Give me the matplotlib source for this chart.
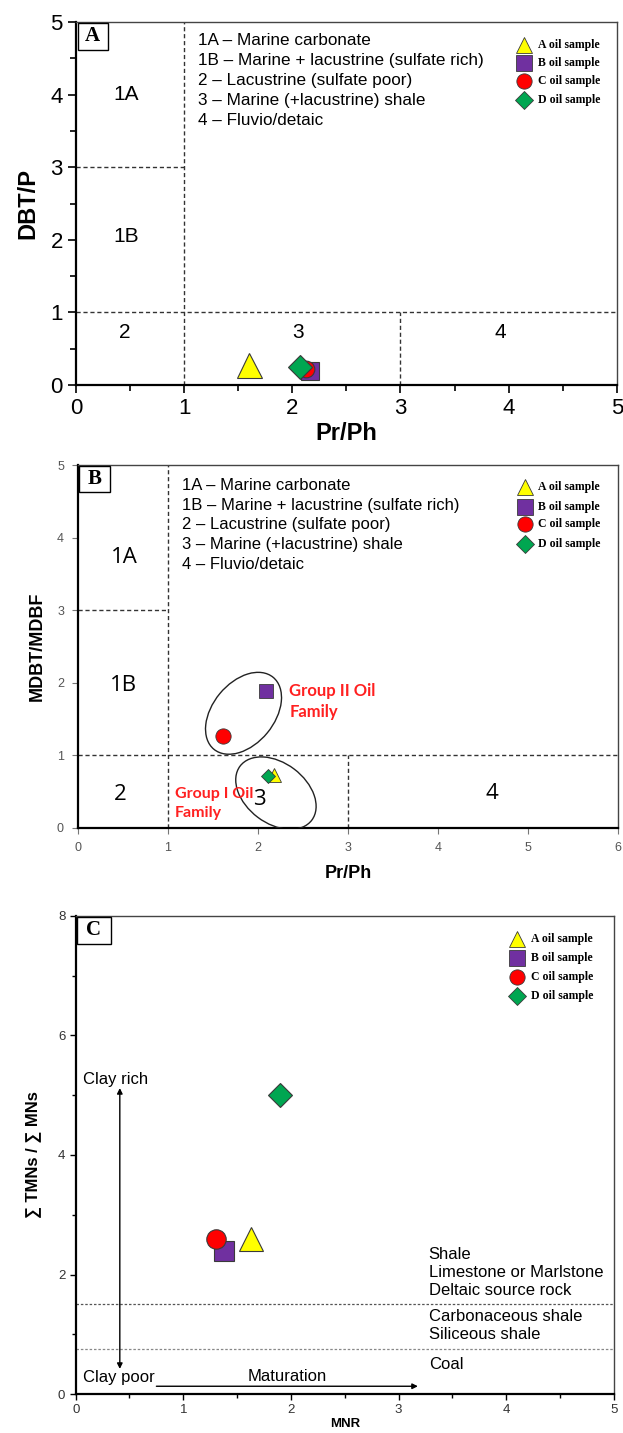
import matplotlib.pyplot as plt
import numpy as np
from matplotlib.patches import Ellipse, Rectangle
from matplotlib.transforms import ScaledTranslation
from matplotlib.ticker import MultipleLocator

samples = ["A oil sample", "B oil sample", "C oil sample", "D oil sample"]
markers = ["^", "s", "o", "D"]
colors = ["#ffff00", "#7030a0", "#ff0000", "#00a651"]

# panel A: DBT/P vs Pr/Ph
prph_a = [1.60, 2.16, 2.13, 2.07]
dbtp_a = [0.27, 0.20, 0.22, 0.25]

# panel B: MDBT/MDBF vs Pr/Ph
prph_b = [2.18, 2.09, 1.61, 2.11]
mdbt_b = [0.73, 1.89, 1.27, 0.71]

# panel C: sum TMNs / sum MNs vs MNR
mnr_c = [1.63, 1.38, 1.30, 1.90]
tmn_c = [2.60, 2.40, 2.60, 5.00]

zones = ["1A \u2013 Marine carbonate",
         "1B \u2013 Marine + lacustrine (sulfate rich)",
         "2 \u2013 Lacustrine (sulfate poor)",
         "3 \u2013 Marine (+lacustrine) shale",
         "4 \u2013 Fluvio/detaic"]

lith_upper = ["Shale", "Limestone or Marlstone", "Deltaic source rock"]
lith_mid = ["Carbonaceous shale", "Siliceous shale"]

plt.rcParams['font.family'] = ['Liberation Sans', 'DejaVu Sans']

fig = plt.figure(figsize=(6.23, 14.33), dpi=100)
axA = fig.add_axes([0.122, 0.7313, 0.868, 0.2533])
axB = fig.add_axes([0.125, 0.4222, 0.867, 0.2533])
axC = fig.add_axes([0.1215, 0.0272, 0.8636, 0.3336])

sizes_a = [18, 13, 12, 12]
sizes_b = [9.5, 10, 11, 7.6]
sizes_c = [17, 14, 14, 12]
edge = "#3a3a3a"
dash = dict(color="#333333", lw=1.0, ls=(0, (3, 2)))


def panel_box(ax, letter, w, h):
    ax.add_patch(Rectangle((0.003, 1 - h), w, h - 0.003, transform=ax.transAxes,
                           facecolor="white", edgecolor="black", lw=1.0, zorder=5))
    ax.text(0.003 + w / 2, 1 - h / 2, letter, transform=ax.transAxes, ha="center",
            va="center", fontsize=15, fontweight="bold", family="Liberation Serif", zorder=6)


def sample_key(ax, x0, ys, ms):
    for lab, m, c, y in zip(samples, markers, colors, ys):
        s = ms * 0.8 if m == "D" else ms
        ax.plot([x0], [y], marker=m, ms=s, mfc=c, mec=edge, mew=0.6,
                transform=ax.transAxes, clip_on=False, ls="none", zorder=6)
        ax.text(x0 + 0.025, y, lab, transform=ax.transAxes, va="center", ha="left",
                fontsize=8.5, fontweight="bold", family="Liberation Serif")


def style_spines(ax):
    for side in ["bottom", "left"]:
        ax.spines[side].set_linewidth(1.6)
    for side in ["top", "right"]:
        ax.spines[side].set_linewidth(1.0)
        ax.spines[side].set_color("#444444")


# ---- panel A ----
ax = axA
ax.set_xlim(0, 5)
ax.set_ylim(0, 5)
ax.axvline(1, **dash)
ax.plot([0, 1], [3, 3], **dash)
ax.plot([0, 5], [1, 1], **dash)
ax.plot([3, 3], [0, 1], **dash)
for x, y, m, c, s in zip(prph_a, dbtp_a, markers, colors, sizes_a):
    ax.plot(x, y, marker=m, ms=s, mfc=c, mec=edge, mew=0.8, ls="none", zorder=4)
for t, x, y in [("1A", 0.46, 4.0), ("1B", 0.46, 2.05), ("2", 0.45, 0.72),
                ("3", 2.05, 0.72), ("4", 3.92, 0.72)]:
    ax.text(x, y, t, ha="center", va="center", fontsize=15)
for i, z in enumerate(zones):
    ax.text(1.13, 4.75 - i * 0.275, z, ha="left", va="center", fontsize=12.3)
ax.set_xticks(range(6))
ax.set_yticks(range(6))
ax.xaxis.set_minor_locator(MultipleLocator(0.5))
ax.yaxis.set_minor_locator(MultipleLocator(0.5))
ax.tick_params(which="both", direction="out", width=1.2)
ax.tick_params(which="major", length=6, labelsize=16)
ax.tick_params(which="minor", length=4)
ax.set_xlabel("Pr/Ph", fontsize=17, fontweight="bold", labelpad=2)
ax.set_ylabel("DBT/P", fontsize=17, fontweight="bold", labelpad=8)
style_spines(ax)
panel_box(ax, "A", 0.056, 0.077)
sample_key(ax, 0.829, [0.938, 0.888, 0.837, 0.785], 11)

# ---- panel B ----
ax = axB
ax.set_xlim(0, 6)
ax.set_ylim(0, 5)
ax.axvline(1, **dash)
ax.plot([0, 1], [3, 3], **dash)
ax.plot([0, 6], [1, 1], **dash)
ax.plot([3, 3], [0, 1], **dash)
for x, y, m, c, s in zip(prph_b, mdbt_b, markers, colors, sizes_b):
    ax.plot(x, y, marker=m, ms=s, mfc=c, mec=edge, mew=0.6, ls="none", zorder=4)
for t, x, y in [("1A", 0.52, 3.73), ("1B", 0.51, 1.96), ("2", 0.47, 0.46),
                ("3", 2.02, 0.39), ("4", 4.6, 0.48)]:
    ax.text(x, y, t, ha="center", va="center", fontsize=16, family="Open Sans")
for i, z in enumerate(zones):
    ax.text(1.16, 4.72 - i * 0.272, z, ha="left", va="center", fontsize=12)

# oil family groupings, sized in pixels around a data-space centre
for cx, cy, a, b, ang in [(1.84, 1.58, 46.6, 30.8, 50.5), (2.20, 0.48, 44.9, 30.2, -37.0)]:
    tr = fig.dpi_scale_trans + ScaledTranslation(cx, cy, ax.transData)
    ax.add_patch(Ellipse((0, 0), 2 * a / 100, 2 * b / 100, angle=ang, transform=tr,
                         fill=False, edgecolor="#222222", lw=1.0, zorder=3))
ax.text(2.35, 1.74, "Group II Oil\nFamily", color="#ff2020", fontsize=12,
        fontweight="bold", family="Lato", ha="left", va="center", linespacing=1.35)
ax.text(1.08, 0.34, "Group I Oil\nFamily", color="#ff2020", fontsize=11.5,
        fontweight="bold", family="Lato", ha="left", va="center", linespacing=1.4)

ax.set_xticks(range(7))
ax.set_yticks(range(6))
ax.tick_params(which="major", direction="out", length=4, pad=6, labelsize=9,
               labelcolor="#555555", color="#777777")
ax.set_xlabel("Pr/Ph", fontsize=13, fontweight="bold", labelpad=8)
ax.set_ylabel("MDBT/MDBF", fontsize=13, fontweight="bold", labelpad=8)
style_spines(ax)
panel_box(ax, "B", 0.057, 0.075)
sample_key(ax, 0.827, [0.939, 0.885, 0.837, 0.783], 11)

# ---- panel C ----
ax = axC
ax.set_xlim(0, 5)
ax.set_ylim(0, 8)
ax.axhline(1.5, color="#555555", lw=0.9, ls=(0, (2, 1.5)))
ax.axhline(0.75, color="#888888", lw=0.9, ls=(0, (2, 1.5)))
for x, y, m, c, s in zip(mnr_c, tmn_c, markers, colors, sizes_c):
    ax.plot(x, y, marker=m, ms=s, mfc=c, mec=edge, mew=0.8, ls="none", zorder=4)
for i, t in enumerate(lith_upper):
    ax.text(3.28, 2.33 - i * 0.30, t, ha="left", va="center", fontsize=12)
for i, t in enumerate(lith_mid):
    ax.text(3.28, 1.29 - i * 0.30, t, ha="left", va="center", fontsize=12)
ax.text(3.28, 0.49, "Coal", ha="left", va="center", fontsize=12)
ax.annotate("", xy=(0.41, 5.12), xytext=(0.41, 0.42),
            arrowprops=dict(arrowstyle="<|-|>", color="black", lw=1.0,
                            mutation_scale=8, shrinkA=0, shrinkB=0))
ax.text(0.07, 5.26, "Clay rich", ha="left", va="center", fontsize=12)
ax.text(0.07, 0.28, "Clay poor", ha="left", va="center", fontsize=12)
ax.annotate("", xy=(3.18, 0.13), xytext=(0.75, 0.13),
            arrowprops=dict(arrowstyle="-|>", color="black", lw=1.0,
                            mutation_scale=8, shrinkA=0, shrinkB=0))
ax.text(1.97, 0.29, "Maturation", ha="center", va="center", fontsize=12)
ax.set_xticks(range(6))
ax.set_yticks(range(0, 9, 2))
ax.xaxis.set_minor_locator(MultipleLocator(0.5))
ax.yaxis.set_minor_locator(MultipleLocator(1))
ax.tick_params(which="both", direction="out", width=1.0, labelsize=9.5,
               labelcolor="#333333")
ax.tick_params(which="major", length=4)
ax.tick_params(which="minor", length=3)
ax.set_xlabel("MNR", fontsize=9.5, fontweight="bold", labelpad=1)
ax.set_ylabel("\u2211 TMNs / \u2211 MNs", fontsize=12, fontweight="bold", labelpad=12,
              family=["Liberation Sans", "DejaVu Sans"])
style_spines(ax)
panel_box(ax, "C", 0.062, 0.058)
sample_key(ax, 0.821, [0.951, 0.912, 0.873, 0.833], 11)

fig.savefig("out.png", dpi=100)
